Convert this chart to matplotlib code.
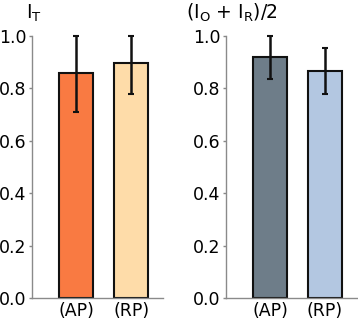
import matplotlib
matplotlib.use('Agg')
import matplotlib.pyplot as plt

plt.rcParams['font.family'] = ['DejaVu Sans']
plt.rcParams['mathtext.fontset'] = 'dejavusans'

# data
categories = ['(AP)', '(RP)']
it_values = [0.858, 0.896]
it_lower = [0.71, 0.78]
it_upper = [1.0, 1.0]
ior_values = [0.92, 0.868]
ior_lower = [0.836, 0.778]
ior_upper = [1.0, 0.953]
yticks = [0.0, 0.2, 0.4, 0.6, 0.8, 1.0]

left_colors = ['#F97A42', '#FEDCA9']
right_colors = ['#6E7D89', '#B3C7E1']
titles = [r'I$_{\mathregular{T}}$', r'(I$_{\mathregular{O}}$ + I$_{\mathregular{R}}$)/2']

fig = plt.figure(figsize=(3.58, 3.25), dpi=100)
ax1 = fig.add_axes([0.0894, 0.083, 0.366, 0.806])
ax2 = fig.add_axes([0.631, 0.083, 0.366, 0.806])

panels = [
    (ax1, it_values, it_lower, it_upper, left_colors),
    (ax2, ior_values, ior_lower, ior_upper, right_colors),
]

for ax, vals, lo, hi, cols in panels:
    x = range(len(vals))
    err = [[v - l for v, l in zip(vals, lo)], [h - v for v, h in zip(vals, hi)]]
    ax.bar(x, vals, width=0.62, color=cols, edgecolor='#111111', linewidth=1.5, zorder=2)
    ax.errorbar(x, vals, yerr=err, fmt='none', ecolor='#111111', elinewidth=1.8,
                capsize=2.5, capthick=1.5, zorder=3, clip_on=False)
    ax.set_xlim(-0.8, 1.58)
    ax.set_ylim(0, 1.0)
    ax.set_xticks(list(x))
    ax.set_xticklabels(categories, fontsize=12.5)
    ax.set_yticks(yticks)
    ax.set_yticklabels([f'{t:.1f}' for t in yticks], fontsize=12.5)
    ax.tick_params(axis='x', length=0, pad=3)
    ax.tick_params(axis='y', length=2, width=1, color='#888888', pad=2)
    for s in ['top', 'right']:
        ax.spines[s].set_visible(False)
    for s in ['left', 'bottom']:
        ax.spines[s].set_color('#8a8a8a')
        ax.spines[s].set_linewidth(1.0)

fig.text(26 / 358, 1 - 13 / 325, titles[0], fontsize=13.5, ha='left', va='center')
fig.text(186 / 358, 1 - 13 / 325, titles[1], fontsize=13.5, ha='left', va='center')

fig.savefig('out.png', dpi=100)
